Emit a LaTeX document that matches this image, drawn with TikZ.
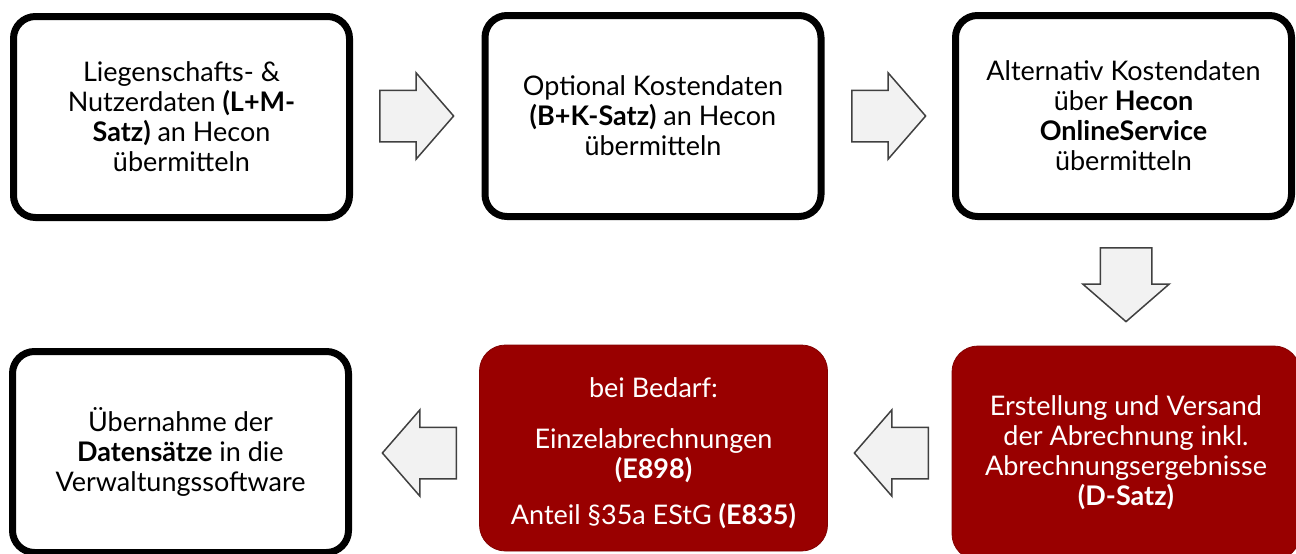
\documentclass[tikz,border=0pt]{standalone}
\usepackage{fontspec}
\setmainfont{Lato}
\usetikzlibrary{shapes.arrows}
\definecolor{hred}{RGB}{153,0,0}
\definecolor{arrfill}{RGB}{242,242,242}
\definecolor{arrline}{RGB}{64,64,64}
\tikzset{
  whitebox/.style={draw=black, line width=7pt, fill=white, rounded corners=22pt,
    minimum width=336pt, minimum height=201pt, align=center, inner sep=0pt,
    font=\fontsize{27}{30}\selectfont, text=black},
  redbox/.style={draw=hred!85!black, line width=0.8pt, fill=hred, rounded corners=26pt,
    minimum width=348pt, minimum height=208pt, align=center, inner sep=0pt,
    font=\fontsize{27}{30}\selectfont, text=white},
  blockarrow/.style={single arrow, draw=arrline, line width=1.5pt, fill=arrfill,
    inner sep=25pt, minimum height=73pt, single arrow head extend=17.5pt,
    single arrow tip angle=98, anchor=tail},
}
\begin{document}
\begin{tikzpicture}[x=1pt,y=-1pt]
\useasboundingbox (0,0) rectangle (1296,554);
\clip (0,0) rectangle (1296,554);
% top row
\node[whitebox] (b1) at (181.5,117) {Liegenschafts- \&\\Nutzerdaten \textbf{(L+M-}\\\textbf{Satz)} an Hecon\\übermitteln};
\node[whitebox] (b2) at (653,116) {Optional Kostendaten\\\textbf{(B+K-Satz)} an Hecon\\übermitteln};
\node[whitebox] (b3) at (1123.5,116) {Alternativ Kostendaten\\über \textbf{Hecon}\\\textbf{OnlineService}\\übermitteln};
% bottom row
\node[redbox, minimum height=214pt] (b4) at (1126,453) {Erstellung und Versand\\der Abrechnung inkl.\\Abrechnungsergebnisse\\\textbf{(D-Satz)}};
\node[redbox, minimum height=206pt] (b5) at (653.5,448) {};
\node[font=\fontsize{27}{30}\selectfont, text=white, align=center] (t5) at (653.5,453) {bei Bedarf:\\[21pt]Einzelabrechnungen\\\textbf{(E898)}\\[16pt]Anteil §35a EStG \textbf{(E835)}};
\node[whitebox] (b6) at (180.5,452) {Übernahme der\\\textbf{Datensätze} in die\\Verwaltungssoftware};
% block arrows
\node[blockarrow] (a1) at (379,116) {};
\node[blockarrow] (a2) at (851,116) {};
\node[blockarrow, rotate=-90] (a3) at (1126,247) {};
\node[blockarrow, rotate=180] (a4) at (929,453) {};
\node[blockarrow, rotate=180] (a5) at (457,453) {};
\end{tikzpicture}
\end{document}
